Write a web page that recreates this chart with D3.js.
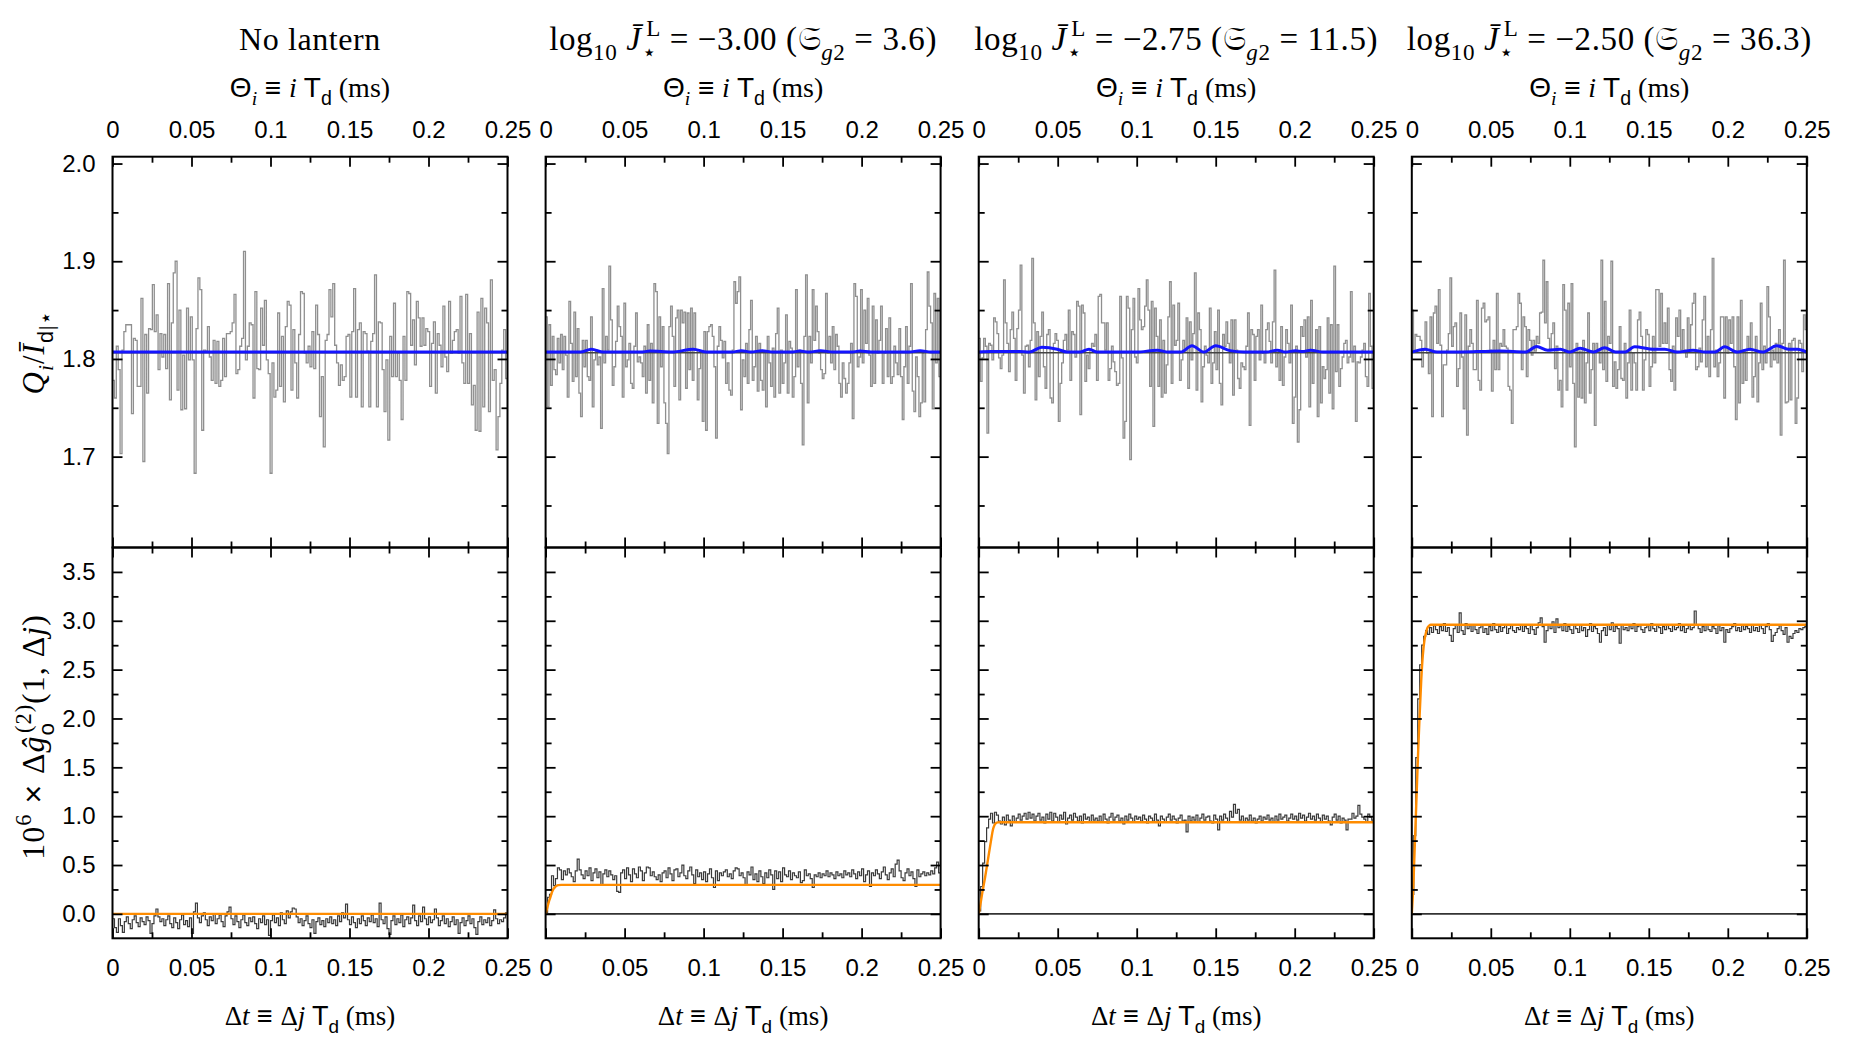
<!DOCTYPE html>
<html>
<head>
<meta charset="utf-8">
<script src="https://cdn.jsdelivr.net/npm/d3@7"></script>
<style>
  body { margin: 0; background: #fff; }
</style>
</head>
<body>
<div id="chart"></div>
<script>
// ---- data ----
const logJ = [null, -3.00, -2.75, -2.50];
const sg2 = [null, 3.6, 11.5, 36.3];

const xMajorTicks = [0, 0.05, 0.1, 0.15, 0.2, 0.25];
const xMinorTicks = [0.025, 0.075, 0.125, 0.175, 0.225];
const qMajorTicks = [1.7, 1.8, 1.9, 2.0];
const qMinorTicks = [1.65, 1.75, 1.85, 1.95];
const gMajorTicks = [0, 0.5, 1, 1.5, 2, 2.5, 3, 3.5];
const gMinorTicks = [0.25, 0.75, 1.25, 1.75, 2.25, 2.75, 3.25];

// top row: Q_i / I_d (gray steps)
const qTrace1 = [1.778,1.760,1.813,1.789,1.703,1.809,1.828,1.835,1.835,1.835,
1.744,1.821,1.819,1.772,1.772,1.862,1.695,1.825,1.765,1.831,
1.830,1.876,1.828,1.845,1.789,1.826,1.802,1.825,1.790,1.877,
1.758,1.837,1.888,1.900,1.768,1.850,1.748,1.804,1.749,1.852,
1.799,1.843,1.799,1.683,1.831,1.883,1.871,1.727,1.809,1.808,
1.833,1.802,1.778,1.819,1.775,1.818,1.772,1.778,1.821,1.782,
1.826,1.826,1.828,1.837,1.866,1.785,1.789,1.813,1.821,1.910,
1.799,1.813,1.837,1.835,1.760,1.869,1.790,1.789,1.852,1.814,
1.860,1.799,1.785,1.683,1.796,1.761,1.768,1.847,1.772,1.823,
1.756,1.833,1.859,1.855,1.768,1.830,1.796,1.760,1.825,1.869,
1.867,1.806,1.796,1.813,1.792,1.828,1.790,1.855,1.825,1.741,
1.782,1.710,1.819,1.825,1.871,1.843,1.877,1.814,1.796,1.773,
1.794,1.778,1.782,1.823,1.825,1.761,1.828,1.872,1.761,1.830,
1.837,1.751,1.828,1.826,1.808,1.751,1.818,1.826,1.886,1.751,
1.838,1.837,1.789,1.746,1.799,1.717,1.823,1.782,1.857,1.782,
1.806,1.778,1.738,1.823,1.778,1.869,1.867,1.814,1.840,1.794,
1.859,1.842,1.813,1.842,1.814,1.831,1.828,1.772,1.816,1.838,
1.765,1.826,1.814,1.792,1.854,1.802,1.787,1.859,1.806,1.819,
1.828,1.830,1.806,1.864,1.796,1.775,1.866,1.775,1.826,1.753,
1.773,1.727,1.848,1.726,1.862,1.751,1.852,1.837,1.746,1.881,
1.778,1.789,1.707,1.741,1.775,1.809,1.830,1.780];

const qTrace2 = [1.843,1.751,1.835,1.773,1.823,1.789,1.784,1.821,1.796,1.825,
1.789,1.823,1.804,1.761,1.859,1.816,1.777,1.848,1.782,1.831,
1.765,1.741,1.819,1.792,1.819,1.782,1.778,1.843,1.751,1.799,
1.809,1.794,1.802,1.729,1.872,1.796,1.823,1.809,1.895,1.840,
1.773,1.792,1.818,1.854,1.833,1.823,1.761,1.857,1.792,1.799,
1.816,1.775,1.770,1.813,1.847,1.797,1.802,1.796,1.782,1.813,
1.765,1.835,1.778,1.816,1.755,1.877,1.869,1.734,1.843,1.792,
1.833,1.755,1.734,1.703,1.833,1.854,1.823,1.772,1.842,1.850,
1.758,1.850,1.837,1.848,1.770,1.847,1.789,1.852,1.778,1.847,
1.809,1.758,1.790,1.808,1.736,1.828,1.727,1.828,1.833,1.835,
1.823,1.792,1.719,1.813,1.833,1.819,1.801,1.818,1.775,1.796,
1.768,1.763,1.809,1.879,1.857,1.869,1.884,1.748,1.799,1.782,
1.816,1.775,1.830,1.860,1.778,1.792,1.823,1.767,1.816,1.778,
1.768,1.808,1.751,1.823,1.796,1.772,1.811,1.761,1.826,1.852,
1.765,1.809,1.775,1.796,1.845,1.765,1.818,1.811,1.761,1.782,
1.871,1.792,1.809,1.775,1.712,1.823,1.886,1.755,1.823,1.796,
1.871,1.819,1.854,1.828,1.806,1.789,1.780,1.785,1.867,1.806,
1.823,1.796,1.833,1.789,1.825,1.813,1.775,1.761,1.796,1.780,
1.765,1.775,1.796,1.816,1.739,1.877,1.864,1.792,1.802,1.871,
1.796,1.850,1.816,1.862,1.804,1.772,1.854,1.775,1.840,1.806,
1.819,1.854,1.775,1.806,1.831,1.782,1.842,1.775,1.782,1.813,
1.796,1.784,1.831,1.782,1.738,1.792,1.833,1.775,1.813,1.877,
1.767,1.746,1.802,1.782,1.741,1.755,1.806,1.756,1.830,1.889,
1.854,1.837,1.749,1.867,1.796,1.862,1.782];

const qTrace3 = [1.821,1.777,1.801,1.821,1.813,1.724,1.816,1.814,1.799,1.842,
1.838,1.826,1.801,1.790,1.804,1.881,1.837,1.816,1.787,1.830,
1.848,1.821,1.778,1.831,1.850,1.896,1.804,1.765,1.813,1.814,
1.792,1.819,1.903,1.837,1.758,1.828,1.782,1.823,1.848,1.792,
1.770,1.825,1.830,1.760,1.755,1.816,1.826,1.819,1.736,1.775,
1.796,1.819,1.825,1.809,1.850,1.778,1.828,1.825,1.802,1.859,
1.854,1.743,1.855,1.847,1.777,1.804,1.790,1.809,1.816,1.813,
1.825,1.778,1.864,1.866,1.837,1.837,1.809,1.837,1.778,1.790,
1.813,1.797,1.787,1.773,1.775,1.864,1.801,1.719,1.736,1.864,
1.852,1.697,1.830,1.862,1.802,1.796,1.872,1.840,1.830,1.833,
1.854,1.881,1.850,1.772,1.859,1.731,1.852,1.823,1.772,1.840,
1.761,1.819,1.765,1.794,1.843,1.879,1.775,1.855,1.814,1.819,
1.857,1.778,1.799,1.819,1.808,1.842,1.770,1.838,1.799,1.826,
1.888,1.768,1.847,1.830,1.756,1.792,1.813,1.804,1.796,1.852,
1.775,1.796,1.828,1.789,1.850,1.775,1.753,1.825,1.813,1.838,
1.816,1.796,1.840,1.763,1.840,1.809,1.780,1.770,1.796,1.792,
1.789,1.813,1.847,1.732,1.830,1.825,1.778,1.823,1.830,1.799,
1.855,1.806,1.796,1.830,1.837,1.818,1.796,1.838,1.891,1.792,
1.806,1.778,1.833,1.773,1.802,1.830,1.816,1.796,1.855,1.734,
1.761,1.813,1.715,1.748,1.833,1.823,1.840,1.802,1.843,1.751,
1.860,1.775,1.809,1.830,1.741,1.833,1.755,1.792,1.780,1.789,
1.842,1.765,1.835,1.749,1.895,1.787,1.835,1.772,1.790,1.802,
1.816,1.819,1.796,1.802,1.869,1.797,1.813,1.736,1.797,1.796,
1.802,1.809,1.816,1.782,1.772,1.867,1.813,1.770];

const qTrace4 = [1.850,1.808,1.825,1.823,1.823,1.819,1.792,1.809,1.838,1.806,
1.785,1.843,1.741,1.847,1.854,1.816,1.871,1.814,1.741,1.794,
1.794,1.809,1.826,1.883,1.813,1.833,1.837,1.772,1.790,1.847,
1.802,1.749,1.845,1.722,1.813,1.830,1.816,1.789,1.789,1.860,
1.778,1.768,1.852,1.857,1.838,1.840,1.843,1.809,1.767,1.819,
1.789,1.867,1.789,1.816,1.813,1.830,1.813,1.811,1.772,1.768,
1.734,1.830,1.830,1.833,1.867,1.857,1.789,1.843,1.833,1.782,
1.830,1.819,1.804,1.819,1.808,1.823,1.816,1.847,1.848,1.901,
1.837,1.879,1.821,1.809,1.826,1.837,1.790,1.813,1.768,1.778,
1.751,1.876,1.850,1.768,1.857,1.792,1.877,1.775,1.710,1.816,
1.761,1.808,1.760,1.819,1.755,1.796,1.847,1.765,1.789,1.816,
1.732,1.816,1.809,1.796,1.901,1.789,1.859,1.777,1.823,1.816,
1.900,1.772,1.797,1.770,1.789,1.833,1.780,1.778,1.816,1.760,
1.796,1.850,1.768,1.806,1.796,1.768,1.840,1.848,1.823,1.768,
1.799,1.830,1.825,1.772,1.792,1.823,1.796,1.871,1.871,1.813,
1.867,1.816,1.837,1.816,1.852,1.789,1.777,1.813,1.768,1.842,
1.823,1.850,1.809,1.830,1.809,1.802,1.842,1.809,1.835,1.857,
1.867,1.789,1.792,1.811,1.797,1.840,1.864,1.792,1.823,1.782,
1.830,1.903,1.792,1.809,1.782,1.796,1.843,1.843,1.760,1.843,
1.806,1.840,1.816,1.843,1.792,1.738,1.843,1.755,1.860,1.775,
1.809,1.778,1.823,1.809,1.837,1.761,1.782,1.823,1.756,1.796,
1.857,1.789,1.813,1.796,1.874,1.843,1.792,1.809,1.799,1.816,
1.796,1.830,1.722,1.816,1.901,1.755,1.756,1.816,1.758,1.819,
1.821,1.734,1.760,1.819,1.816,1.787,1.845,1.830];

// top row: mean level (dark line) and blue model curve
const qMean = [1.8063, 1.8063, 1.8063, 1.8063];
const blueT1 = [0, 0.25];
const blueQ1 = [1.807, 1.807];
const blueT2 = [0, 0.022, 0.029, 0.0365, 0.060, 0.066, 0.080, 0.0935, 0.102, 0.118, 0.124, 0.130, 0.137, 0.144, 0.155, 0.161, 0.167, 0.174, 0.182, 0.193, 0.199, 0.206, 0.230, 0.237, 0.244, 0.25];
const blueQ2 = [1.807, 1.807, 1.810, 1.807, 1.807, 1.808, 1.807, 1.810, 1.807, 1.807, 1.8085, 1.807, 1.8085, 1.807, 1.807, 1.808, 1.807, 1.8085, 1.807, 1.807, 1.808, 1.807, 1.807, 1.8085, 1.807, 1.807];
const blueT3 = [0, 0.008, 0.026, 0.032, 0.040, 0.0497, 0.056, 0.064, 0.0698, 0.075, 0.100, 0.113, 0.120, 0.128, 0.135, 0.1425, 0.150, 0.159, 0.168, 0.182, 0.189, 0.194, 0.2005, 0.205, 0.210, 0.218, 0.25];
const blueQ3 = [1.807, 1.8075, 1.8075, 1.807, 1.812, 1.810, 1.807, 1.807, 1.810, 1.807, 1.807, 1.809, 1.807, 1.807, 1.8135, 1.807, 1.8135, 1.8085, 1.807, 1.807, 1.809, 1.807, 1.8085, 1.8075, 1.809, 1.807, 1.807];
const blueT4 = [0, 0.0084, 0.016, 0.041, 0.056, 0.072, 0.079, 0.086, 0.094, 0.1, 0.1065, 0.115, 0.122, 0.129, 0.135, 0.141, 0.153, 0.160, 0.168, 0.178, 0.186, 0.192, 0.198, 0.206, 0.214, 0.222, 0.231, 0.2384, 0.244, 0.25];
const blueQ4 = [1.807, 1.810, 1.807, 1.8075, 1.808, 1.807, 1.8128, 1.809, 1.810, 1.807, 1.811, 1.807, 1.8115, 1.807, 1.807, 1.8125, 1.810, 1.810, 1.807, 1.809, 1.807, 1.807, 1.8125, 1.807, 1.810, 1.807, 1.8135, 1.810, 1.810, 1.807];

// bottom row: 10^6 x delta g2 (dark steps)
const gTrace1 = [-0.05,-0.14,-0.19,-0.05,-0.12,-0.19,-0.08,-0.03,-0.10,-0.15,
-0.06,-0.02,-0.09,-0.13,-0.04,-0.08,-0.11,-0.03,-0.07,-0.20,
-0.10,-0.02,0.05,-0.03,-0.08,-0.05,-0.12,-0.06,-0.02,-0.10,
-0.14,-0.04,-0.09,-0.15,-0.06,-0.01,-0.11,-0.07,-0.13,-0.04,
-0.20,0.02,0.11,-0.04,-0.09,-0.02,0.01,-0.06,-0.12,-0.03,
-0.07,0.00,-0.10,-0.05,-0.01,-0.08,-0.13,-0.02,0.02,0.07,
-0.05,-0.11,-0.02,-0.08,-0.14,-0.06,-0.01,-0.09,-0.12,-0.04,
-0.08,-0.03,-0.10,-0.15,-0.05,-0.09,-0.02,-0.11,-0.06,-0.22,
-0.07,-0.01,-0.09,-0.04,-0.12,0.01,-0.06,-0.10,0.03,-0.04,
0.02,0.06,0.05,-0.03,-0.09,-0.05,-0.12,-0.07,-0.02,-0.10,
-0.14,-0.06,-0.20,-0.08,-0.04,-0.11,-0.07,-0.13,-0.05,-0.09,
-0.03,-0.10,-0.06,-0.12,-0.02,-0.08,0.01,-0.04,0.10,-0.06,
-0.11,-0.03,-0.09,-0.14,-0.05,-0.10,-0.02,-0.07,-0.12,-0.04,
-0.08,-0.01,-0.09,-0.05,-0.13,0.11,-0.06,-0.10,-0.03,-0.15,
-0.21,-0.07,-0.02,-0.11,-0.05,-0.09,-0.01,-0.13,-0.06,-0.03,
-0.10,-0.04,0.09,-0.07,-0.12,-0.02,-0.08,0.07,-0.05,-0.11,
-0.03,-0.09,-0.06,0.05,-0.04,-0.12,-0.07,-0.02,-0.10,-0.05,
-0.13,-0.08,-0.03,-0.11,-0.06,-0.20,-0.09,-0.04,-0.12,-0.07,
-0.02,-0.10,-0.05,-0.14,-0.21,-0.08,-0.03,-0.11,-0.06,-0.09,
-0.04,-0.12,-0.07,0.04,-0.05,-0.10,-0.06,-0.08,-0.04,0.01];

const gTrace2 = [0.01,0.17,0.20,0.39,0.29,0.36,0.47,0.45,0.35,0.44,
0.40,0.46,0.42,0.38,0.33,0.44,0.56,0.45,0.40,0.36,
0.44,0.39,0.47,0.34,0.42,0.46,0.37,0.43,0.30,0.41,
0.45,0.38,0.44,0.40,0.35,0.39,0.23,0.22,0.42,0.45,
0.36,0.47,0.40,0.33,0.46,0.41,0.37,0.48,0.44,0.34,
0.42,0.48,0.47,0.39,0.43,0.38,0.35,0.40,0.33,0.42,
0.44,0.37,0.47,0.41,0.34,0.45,0.46,0.38,0.42,0.50,
0.39,0.36,0.44,0.48,0.40,0.31,0.45,0.38,0.42,0.35,
0.43,0.33,0.41,0.46,0.37,0.27,0.44,0.34,0.42,0.39,
0.43,0.45,0.38,0.41,0.36,0.44,0.47,0.46,0.39,0.42,
0.37,0.30,0.43,0.40,0.48,0.35,0.41,0.33,0.44,0.38,
0.31,0.42,0.37,0.45,0.40,0.25,0.44,0.36,0.43,0.33,
0.47,0.40,0.38,0.44,0.35,0.42,0.39,0.37,0.43,0.32,
0.34,0.45,0.39,0.41,0.36,0.27,0.40,0.38,0.42,0.37,
0.41,0.39,0.44,0.38,0.42,0.40,0.36,0.43,0.39,0.41,
0.37,0.44,0.40,0.42,0.38,0.45,0.41,0.36,0.43,0.39,
0.46,0.33,0.40,0.44,0.28,0.42,0.39,0.45,0.41,0.36,
0.43,0.48,0.40,0.35,0.42,0.46,0.38,0.51,0.55,0.44,
0.37,0.34,0.42,0.46,0.39,0.43,0.36,0.28,0.45,0.38,
0.41,0.43,0.39,0.42,0.40,0.44,0.41,0.47,0.53,0.42];

const gTrace3 = [0.03,0.28,0.52,0.74,0.88,0.97,1.03,0.93,1.04,1.01,
0.95,0.92,0.99,0.91,1.01,0.96,0.90,1.00,0.94,0.98,
1.02,0.96,1.00,1.03,0.97,1.04,0.98,1.02,0.95,1.00,
1.03,0.96,0.99,0.93,1.02,0.97,1.04,0.95,1.03,0.99,
0.94,1.01,0.97,1.04,0.92,0.98,1.01,0.96,1.03,0.99,
0.95,1.00,0.93,1.02,0.97,0.99,0.94,1.01,0.96,0.98,
0.95,1.00,0.94,1.02,0.97,0.93,0.99,1.03,0.96,0.99,
1.01,0.95,0.98,0.92,1.00,0.96,1.02,0.98,0.94,1.00,
0.97,0.99,0.95,1.01,0.97,0.93,1.00,0.98,0.95,1.02,
0.96,0.90,1.00,0.97,0.94,0.99,1.02,0.96,1.00,0.97,
0.93,0.98,1.01,0.95,0.96,0.84,1.00,0.95,0.99,0.96,
1.01,0.94,0.98,1.02,0.96,0.99,1.00,0.95,0.93,1.01,
0.97,0.86,1.00,0.96,1.02,0.98,0.94,1.05,0.99,1.12,
1.03,1.07,0.96,1.00,0.94,0.98,0.96,1.01,0.95,0.98,
0.93,0.97,1.00,0.95,0.99,0.97,1.01,0.96,0.98,0.94,
1.00,0.96,1.02,0.97,0.99,1.01,0.95,0.98,1.02,0.97,
1.00,0.96,1.03,0.98,1.01,0.95,0.99,1.03,0.97,1.00,
0.96,1.02,0.98,0.94,1.01,0.97,1.00,0.95,0.91,0.99,
1.02,0.96,1.00,0.93,0.98,0.96,0.86,0.97,0.97,1.03,
0.98,1.00,1.11,1.02,0.99,0.97,0.94,1.02,0.99,0.96];

const gTrace4 = [0.20,0.80,1.60,2.20,2.55,2.75,2.84,2.90,2.86,2.93,
2.88,2.95,2.91,2.87,2.94,2.90,2.97,2.89,2.93,2.85,
2.79,2.92,2.96,2.88,3.08,2.90,2.86,2.97,2.92,2.95,
2.89,2.96,2.91,2.87,2.93,2.95,2.88,2.92,2.86,2.94,
2.90,2.97,2.91,2.88,2.94,2.89,2.93,2.96,2.87,2.92,
2.95,2.90,2.88,2.93,2.91,2.96,2.89,2.94,2.92,2.87,
2.95,2.91,2.86,2.93,2.98,3.03,2.94,2.78,2.90,2.96,
2.92,2.99,2.88,3.02,2.93,2.95,2.90,2.97,2.89,2.94,
2.91,2.87,2.95,2.92,2.88,2.96,2.90,2.93,2.84,2.91,
2.97,2.89,2.94,2.92,2.87,2.78,2.90,2.93,2.85,2.96,
2.91,2.98,2.89,2.94,2.92,2.77,2.96,2.91,2.93,2.90,
2.95,2.92,2.97,2.89,2.94,2.96,2.91,2.88,2.93,2.95,
2.90,2.97,2.92,2.89,2.95,2.93,2.87,2.94,2.91,2.96,
2.92,2.89,2.95,2.91,2.93,2.97,2.90,2.94,2.88,2.92,
2.95,2.91,2.93,3.10,2.96,2.92,2.88,2.94,2.90,2.96,
2.91,2.89,2.94,2.92,2.87,2.95,2.90,2.93,2.78,2.91,
2.88,2.92,2.94,2.97,2.90,2.93,2.89,2.95,2.91,2.94,
2.92,2.88,2.96,2.90,2.93,2.89,2.95,2.92,2.87,2.94,
2.97,2.91,2.79,2.85,2.88,2.92,2.95,2.90,2.86,2.93,
2.78,2.84,2.82,2.87,2.90,2.88,2.92,2.91,2.93,2.94];

// bottom row: orange fit
const fitT1 = [0, 0.25];
const fitG1 = [0, 0];
const fitT2 = [0, 0.001, 0.002, 0.003, 0.004, 0.005, 0.006, 0.007, 0.008, 0.010, 0.25];
const fitG2 = [0, 0.06, 0.12, 0.17, 0.22, 0.255, 0.275, 0.288, 0.294, 0.297, 0.297];
const fitT3 = [0, 0.001, 0.002, 0.003, 0.004, 0.005, 0.006, 0.007, 0.008, 0.009, 0.010, 0.011, 0.012, 0.014, 0.25];
const fitG3 = [0, 0.09, 0.19, 0.28, 0.37, 0.47, 0.57, 0.67, 0.77, 0.86, 0.91, 0.93, 0.937, 0.938, 0.938];
const fitT4 = [0, 0.001, 0.002, 0.003, 0.004, 0.005, 0.006, 0.007, 0.008, 0.009, 0.010, 0.011, 0.012, 0.014, 0.25];
const fitG4 = [0, 0.3, 0.75, 1.2, 1.65, 2.05, 2.4, 2.65, 2.8, 2.88, 2.93, 2.95, 2.96, 2.96, 2.96];

const qTraces = [qTrace1, qTrace2, qTrace3, qTrace4];
const blueT = [blueT1, blueT2, blueT3, blueT4];
const blueQ = [blueQ1, blueQ2, blueQ3, blueQ4];
const gTraces = [gTrace1, gTrace2, gTrace3, gTrace4];
const fitT = [fitT1, fitT2, fitT3, fitT4];
const fitG = [fitG1, fitG2, fitG3, fitG4];

// ---- layout ----
const W = 1863, H = 1044;
const left0 = 112.5, colStep = 433.1;
const pw = 395, ph = 390.8, top0 = 156.7;
const SERIF = '"Liberation Serif", "DejaVu Serif", serif';
const SANS = '"Liberation Sans", Arial, sans-serif';

const svg = d3.select("#chart")
    .append("svg")
    .attr("width", W)
    .attr("height", H)
    .style("background", "#fff");

const x = d3.scaleLinear().domain([0, 0.25]).range([0, pw]);
const yQ = d3.scaleLinear().domain([1.607, 2.007]).range([ph, 0]);
const yG = d3.scaleLinear().domain([-0.25, 3.75]).range([ph, 0]);

const fmtX = d => d === 0 ? "0" : String(d);
const fmtY = d3.format(".1f");

// small helper for math-like labels made of tspans
function rich(sel, parts, size) {
    let shift = 0;
    parts.forEach(p => {
        const o = typeof p === "string" ? { t: p } : p;
        const target = o.sub ? size * 0.3 : o.sup ? -size * 0.42 : 0;
        const ts = sel.append("tspan")
            .text(o.t)
            .attr("dy", target - shift)
            .style("font-size", (o.sub || o.sup ? size * 0.7 : size) + "px")
            .style("font-style", o.i ? "italic" : "normal")
            .style("font-family", o.sans ? SANS : SERIF);
        if (o.dx) ts.attr("dx", o.dx);
        shift = target;
    });
}

function styleAxis(g) {
    g.select(".domain").remove();
    g.selectAll(".tick line").attr("stroke", "#000").attr("stroke-width", 1.8);
    g.selectAll(".tick text")
        .style("font-family", SANS)
        .style("font-size", "24px")
        .attr("fill", "#000");
}

// draws the inward ticks on all four sides of one panel
function frameAxes(g, y, majY, minY, opts) {
    const add = (axis) => g.append("g").call(axis).call(styleAxis);
    // top
    add(d3.axisTop(x).tickValues(xMajorTicks).tickSizeInner(-10).tickSizeOuter(0)
        .tickPadding(19).tickFormat(opts.topLabels ? fmtX : ""));
    add(d3.axisTop(x).tickValues(xMinorTicks).tickSizeInner(-6).tickSizeOuter(0).tickFormat(""));
    // bottom
    g.append("g").attr("transform", `translate(0,${ph})`)
        .call(d3.axisBottom(x).tickValues(xMajorTicks).tickSizeInner(-10).tickSizeOuter(0)
            .tickPadding(21).tickFormat(opts.bottomLabels ? fmtX : ""))
        .call(styleAxis);
    g.append("g").attr("transform", `translate(0,${ph})`)
        .call(d3.axisBottom(x).tickValues(xMinorTicks).tickSizeInner(-6).tickSizeOuter(0).tickFormat(""))
        .call(styleAxis);
    // left
    add(d3.axisLeft(y).tickValues(majY).tickSizeInner(-10).tickSizeOuter(0)
        .tickPadding(17).tickFormat(opts.leftLabels ? fmtY : ""));
    add(d3.axisLeft(y).tickValues(minY).tickSizeInner(-6).tickSizeOuter(0).tickFormat(""));
    // right
    g.append("g").attr("transform", `translate(${pw},0)`)
        .call(d3.axisRight(y).tickValues(majY).tickSizeInner(-10).tickSizeOuter(0).tickFormat(""))
        .call(styleAxis);
    g.append("g").attr("transform", `translate(${pw},0)`)
        .call(d3.axisRight(y).tickValues(minY).tickSizeInner(-6).tickSizeOuter(0).tickFormat(""))
        .call(styleAxis);
    // frame
    g.append("rect")
        .attr("width", pw).attr("height", ph)
        .attr("fill", "none").attr("stroke", "#000").attr("stroke-width", 2);
}

function stepPoints(vals) {
    const dt = 0.25 / vals.length;
    const pts = vals.map((v, i) => [i * dt, v]);
    pts.push([0.25, vals[vals.length - 1]]);
    return pts;
}

for (let c = 0; c < 4; c++) {
    const gx = left0 + c * colStep;

    // ---- top panel ----
    const gt = svg.append("g").attr("transform", `translate(${gx},${top0})`);
    gt.append("clipPath").attr("id", `clipT${c}`)
        .append("rect").attr("width", pw).attr("height", ph);
    const pt = gt.append("g").attr("clip-path", `url(#clipT${c})`);

    const stepQ = d3.line().x(d => x(d[0])).y(d => yQ(d[1])).curve(d3.curveStepAfter);
    pt.append("path")
        .datum(stepPoints(qTraces[c]))
        .attr("d", stepQ)
        .attr("fill", "none")
        .attr("stroke", "#8f8f8f")
        .attr("stroke-width", 1.3);

    pt.append("line")
        .attr("x1", x(0)).attr("x2", x(0.25))
        .attr("y1", yQ(qMean[c])).attr("y2", yQ(qMean[c]))
        .attr("stroke", "#444").attr("stroke-width", 1.6);

    const blueLine = d3.line().x(d => x(d[0])).y(d => yQ(d[1])).curve(d3.curveMonotoneX);
    pt.append("path")
        .datum(blueT[c].map((t, i) => [t, blueQ[c][i]]))
        .attr("d", blueLine)
        .attr("fill", "none")
        .attr("stroke", "#1414ff")
        .attr("stroke-width", 3);

    frameAxes(gt, yQ, qMajorTicks, qMinorTicks, { topLabels: true, bottomLabels: false, leftLabels: c === 0 });

    // ---- bottom panel ----
    const gb = svg.append("g").attr("transform", `translate(${gx},${top0 + ph})`);
    gb.append("clipPath").attr("id", `clipB${c}`)
        .append("rect").attr("width", pw).attr("height", ph);
    const pb = gb.append("g").attr("clip-path", `url(#clipB${c})`);

    pb.append("line")
        .attr("x1", x(0)).attr("x2", x(0.25))
        .attr("y1", yG(0)).attr("y2", yG(0))
        .attr("stroke", "#333").attr("stroke-width", 1.6);

    const stepG = d3.line().x(d => x(d[0])).y(d => yG(d[1])).curve(d3.curveStepAfter);
    pb.append("path")
        .datum(stepPoints(gTraces[c]))
        .attr("d", stepG)
        .attr("fill", "none")
        .attr("stroke", "#3a3a3a")
        .attr("stroke-width", 1.2);

    const fitLine = d3.line().x(d => x(d[0])).y(d => yG(d[1])).curve(d3.curveMonotoneX);
    pb.append("path")
        .datum(fitT[c].map((t, i) => [t, fitG[c][i]]))
        .attr("d", fitLine)
        .attr("fill", "none")
        .attr("stroke", "#ff8c00")
        .attr("stroke-width", 2.4);

    frameAxes(gb, yG, gMajorTicks, gMinorTicks, { topLabels: false, bottomLabels: true, leftLabels: c === 0 });

    // ---- column texts ----
    const cx = gx + pw / 2;
    const title = svg.append("text")
        .attr("x", cx).attr("y", 50)
        .attr("text-anchor", "middle")
        .style("letter-spacing", "0.6px")
        .attr("fill", "#000");
    if (c === 0) {
        rich(title, ["No lantern"], 32);
    } else {
        rich(title, [
            "log", { t: "10", sub: true }, " ",
            { t: "J\u0304", i: true }, { t: "\u22c6", sub: true }, { t: "L", sup: true, dx: -10 },
            " = \u2212" + Math.abs(logJ[c]).toFixed(2) + " (",
            "\ud835\udd16", { t: "g", sub: true, i: true }, { t: "2", sub: true },
            " = " + sg2[c].toFixed(1) + ")"
        ], 33);
    }

    const topTitle = svg.append("text")
        .attr("x", cx).attr("y", 97)
        .attr("text-anchor", "middle");
    rich(topTitle, [
        { t: "\u0398", sans: true }, { t: "i", sub: true, i: true },
        { t: " \u2261 ", sans: true }, { t: "i", i: true }, " ",
        { t: "T", sans: true }, { t: "d", sub: true, sans: true }, " (ms)"
    ], 28);

    const botTitle = svg.append("text")
        .attr("x", cx).attr("y", 1025)
        .attr("text-anchor", "middle");
    rich(botTitle, [
        "\u0394", { t: "t", i: true }, { t: " \u2261 ", sans: true },
        "\u0394", { t: "j", i: true }, " ",
        { t: "T", sans: true }, { t: "d", sub: true, sans: true }, " (ms)"
    ], 27);
}

// ---- y-axis titles ----
const yTitleTop = svg.append("text")
    .attr("transform", `translate(44,${top0 + ph / 2}) rotate(-90)`)
    .attr("text-anchor", "middle")
    .style("letter-spacing", "1px");
rich(yTitleTop, [
    { t: "Q", i: true }, { t: "i", sub: true, i: true }, "/",
    { t: "I\u0304", i: true }, { t: "d", sub: true, sans: true }, { t: "|\u22c6", sub: true }
], 31);

const yTitleBot = svg.append("text")
    .attr("transform", `translate(44,${top0 + ph + ph / 2 - 6}) rotate(-90)`)
    .attr("text-anchor", "middle")
    .style("letter-spacing", "1px");
rich(yTitleBot, [
    "10", { t: "6", sup: true }, { t: " \u00d7 ", sans: true },
    "\u0394", { t: "g\u0302", i: true }, { t: "o", sub: true, sans: true },
    { t: "(2)", sup: true, dx: -11 }, "(1, \u0394", { t: "j", i: true }, ")"
], 32);
</script>
</body>
</html>
